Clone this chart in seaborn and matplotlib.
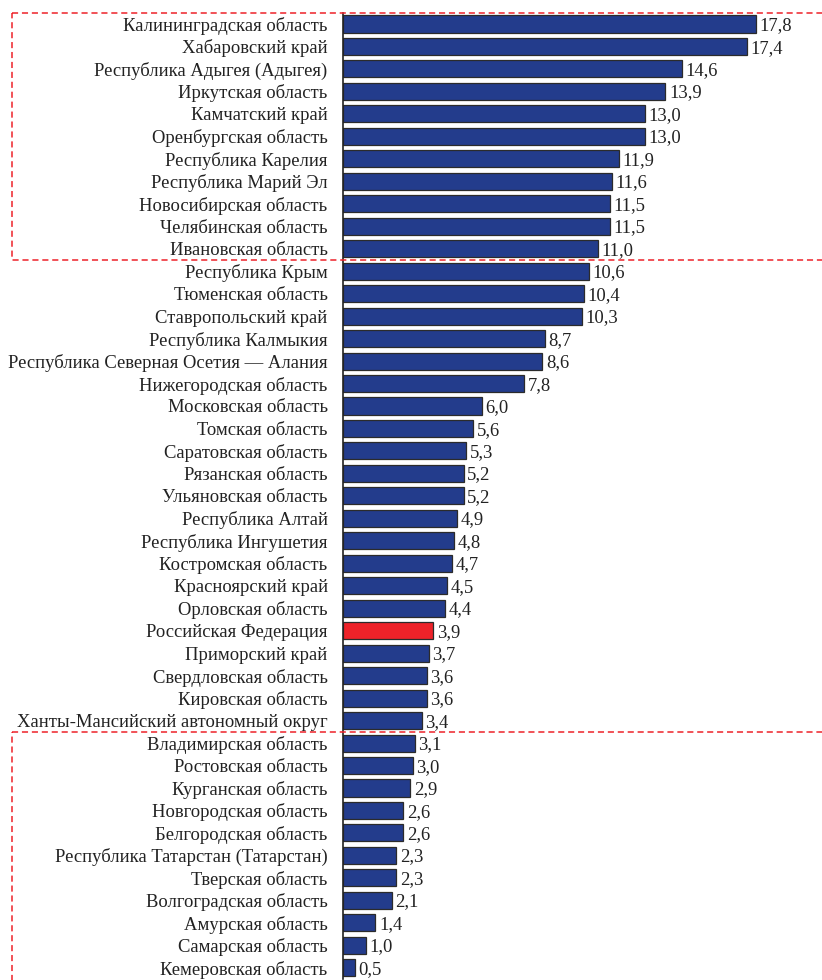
import matplotlib
matplotlib.use("Agg")
import matplotlib.pyplot as plt
import matplotlib.transforms as mtransforms
from matplotlib.patches import Rectangle
import pandas as pd
import seaborn as sns

# --- Data ---
regions = [
    "Калининградская область", "Хабаровский край", "Республика Адыгея (Адыгея)",
    "Иркутская область", "Камчатский край", "Оренбургская область",
    "Республика Карелия", "Республика Марий Эл", "Новосибирская область",
    "Челябинская область", "Ивановская область", "Республика Крым",
    "Тюменская область", "Ставропольский край", "Республика Калмыкия",
    "Республика Северная Осетия — Алания", "Нижегородская область",
    "Московская область", "Томская область", "Саратовская область",
    "Рязанская область", "Ульяновская область", "Республика Алтай",
    "Республика Ингушетия", "Костромская область", "Красноярский край",
    "Орловская область", "Российская Федерация", "Приморский край",
    "Свердловская область", "Кировская область",
    "Ханты-Мансийский автономный округ", "Владимирская область",
    "Ростовская область", "Курганская область", "Новгородская область",
    "Белгородская область", "Республика Татарстан (Татарстан)",
    "Тверская область", "Волгоградская область", "Амурская область",
    "Самарская область", "Кемеровская область",
]
values = [
    17.8, 17.4, 14.6, 13.9, 13.0, 13.0, 11.9, 11.6, 11.5, 11.5, 11.0,
    10.6, 10.4, 10.3, 8.7, 8.6, 7.8, 6.0, 5.6, 5.3, 5.2, 5.2, 4.9, 4.8,
    4.7, 4.5, 4.4, 3.9, 3.7, 3.6, 3.6, 3.4,
    3.1, 3.0, 2.9, 2.6, 2.6, 2.3, 2.3, 2.1, 1.4, 1.0, 0.5,
]
highlight = "Российская Федерация"
top_group = 11      # first rows inside the upper dashed box
bottom_group = 11   # last rows inside the lower dashed box

BLUE = "#233c8c"
RED = "#ee2229"
FS = 13.4

df = pd.DataFrame({"region": regions, "value": values})
palette = {r: (RED if r == highlight else BLUE) for r in regions}

sns.set_theme(style="white")
plt.rcParams["font.family"] = ["Liberation Serif", "DejaVu Serif"]

fig = plt.figure(figsize=(8.22, 9.8), dpi=100)
ax = fig.add_axes([0.4173, 0.001, 0.5827, 0.986])

sns.barplot(data=df, y="region", x="value", hue="region", palette=palette,
            legend=False, width=0.76, edgecolor="#2b2b2b", linewidth=0.9,
            saturation=1, ax=ax)

# value labels, decimal comma
for i, v in enumerate(values):
    ax.annotate(f"{v:.1f}".replace(".", ","), xy=(v, i), xytext=(2.5, -1.2),
                textcoords="offset points", ha="left", va="center",
                fontsize=FS, color="#222222")

ax.set_xlim(0, 20.65)
ax.set_ylim(len(regions) - 0.5, -0.5)
ax.set_xlabel("")
ax.set_ylabel("")
ax.set_xticks([])
ax.tick_params(axis="y", length=0, pad=11, labelsize=FS, labelcolor="#222222")
for s in ["top", "right", "bottom"]:
    ax.spines[s].set_visible(False)
ax.spines["left"].set_color("#222222")
ax.spines["left"].set_linewidth(1.2)

# dashed boxes around the leaders and the outsiders
trans = mtransforms.blended_transform_factory(fig.transFigure, ax.transData)
x0 = 12 / 822
boxes = [(-0.5, top_group - 0.5), (len(regions) - bottom_group - 0.5, len(regions) - 0.3)]
for y_a, y_b in boxes:
    ax.add_patch(Rectangle((x0, y_a), 1.2 - x0, y_b - y_a, transform=trans,
                           fill=False, edgecolor=RED, linestyle=(0, (4, 2.5)),
                           linewidth=1.1, clip_on=False, zorder=5))

fig.savefig("out.png", dpi=100)
